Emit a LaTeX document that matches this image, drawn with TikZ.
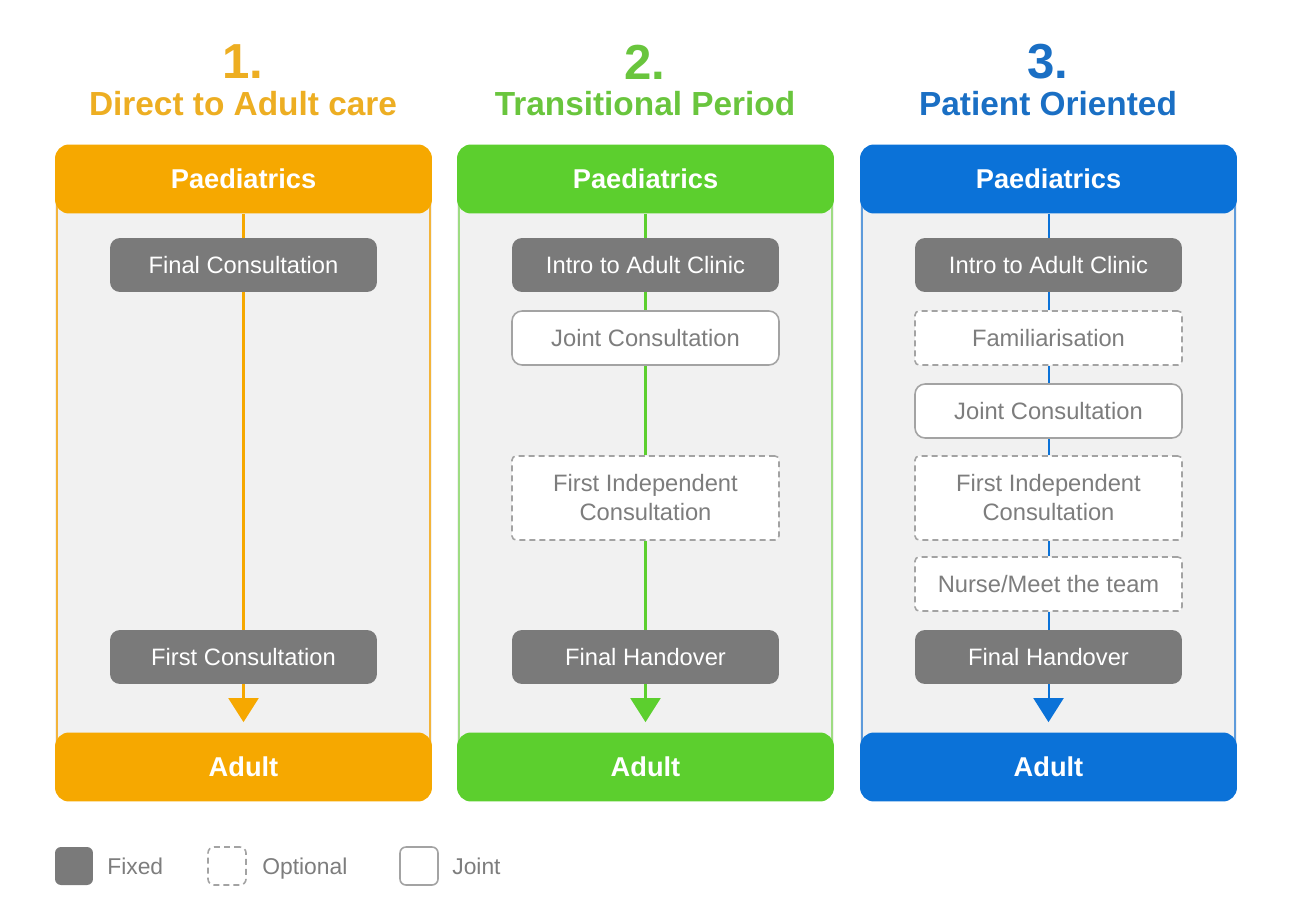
\documentclass[tikz,border=0pt]{standalone}
\usepackage{fontspec}
\setmainfont{Liberation Sans}
\usetikzlibrary{arrows.meta}
\definecolor{corange}{HTML}{F6A800}
\definecolor{cgreen}{HTML}{5CCF2E}
\definecolor{cblue}{HTML}{0B72D8}
\definecolor{torange}{HTML}{EDAE22}
\definecolor{tgreen}{HTML}{69C53D}
\definecolor{tblue}{HTML}{1A6FC4}
\definecolor{lorange}{HTML}{F3B43A}
\definecolor{lgreen}{HTML}{9EDC82}
\definecolor{lblue}{HTML}{5E9BDB}
\definecolor{panelgray}{HTML}{F1F1F1}
\definecolor{fixgray}{HTML}{7A7A7A}
\definecolor{dashgray}{HTML}{A3A3A3}
\definecolor{txtgray}{HTML}{7D7D7D}
\begin{document}
\begin{tikzpicture}[x=0.02cm,y=-0.02cm,
  numtitle/.style={text=#1, font=\bfseries\fontsize{28}{30}\selectfont, inner sep=0},
  subtitle/.style={text=#1, font=\bfseries\fontsize{19}{21}\selectfont, inner sep=0},
  hdr/.style={fill=#1, rounded corners=0.28cm, minimum width=7.54cm, minimum height=1.38cm, text=white, font=\bfseries\fontsize{15.5}{18}\selectfont, inner sep=0},
  stepbase/.style={minimum width=5.34cm, minimum height=1.08cm, align=center, inner sep=0, font=\fontsize{13.5}{16.5}\selectfont},
  fixed/.style={stepbase, fill=fixgray, rounded corners=0.2cm, text=white},
  optional/.style={stepbase, fill=white, draw=dashgray, dash pattern=on 3.4pt off 2.3pt, line width=0.9pt, rounded corners=0.08cm, text=txtgray},
  joint/.style={stepbase, fill=white, draw=dashgray, line width=0.9pt, rounded corners=0.2cm, text=txtgray},
  flow/.style={draw=#1, line width=1.15pt},
  tip/.style={flow=#1, -{Triangle[width=0.6cm,length=0.48cm]}, shorten >=0.2cm},
  side/.style={draw=#1, line width=0.9pt},
  legtext/.style={anchor=base west, text=txtgray, font=\fontsize{13}{16}\selectfont, inner sep=0}
]
\useasboundingbox (0,0) rectangle (1295,905);
\fill[white] (0,0) rectangle (1295,905);

% ---------- Column 1 ----------
\fill[panelgray] (55,190) rectangle (432,760);
\draw[side=lorange] (57,200) -- (57,750);
\draw[side=lorange] (430,200) -- (430,750);
\node[numtitle=torange] (n1) at (243,62) {1.};
\node[subtitle=torange] (s1) at (243,104) {Direct to Adult care};
\node[hdr=corange] (p1) at (243.5,179) {Paediatrics};
\node[hdr=corange] (ad1) at (243.5,767) {Adult};
\node[fixed] (fc1) at (243.5,265) {Final Consultation};
\node[fixed] (fi1) at (243.5,657) {First Consultation};
\draw[flow=corange] (p1.south) -- (fc1.north);
\draw[flow=corange] (fc1.south) -- (fi1.north);
\draw[tip=corange] (fi1.south) -- (ad1.north);

% ---------- Column 2 ----------
\fill[panelgray] (457,190) rectangle (834,760);
\draw[side=lgreen] (459,200) -- (459,750);
\draw[side=lgreen] (832,200) -- (832,750);
\node[numtitle=tgreen] (n2) at (645,62) {2.};
\node[subtitle=tgreen] (s2) at (645,104) {Transitional Period};
\node[hdr=cgreen] (p2) at (645.5,179) {Paediatrics};
\node[hdr=cgreen] (ad2) at (645.5,767) {Adult};
\node[fixed] (in2) at (645.5,265) {Intro to Adult Clinic};
\node[joint] (jc2) at (645.5,338) {Joint Consultation};
\node[optional, minimum height=1.68cm] (fic2) at (645.5,498) {First Independent\\Consultation};
\node[fixed] (fh2) at (645.5,657) {Final Handover};
\draw[flow=cgreen] (p2.south) -- (in2.north);
\draw[flow=cgreen] (in2.south) -- (jc2.north);
\draw[flow=cgreen] (jc2.south) -- (fic2.north);
\draw[flow=cgreen] (fic2.south) -- (fh2.north);
\draw[tip=cgreen] (fh2.south) -- (ad2.north);

% ---------- Column 3 ----------
\fill[panelgray] (860,190) rectangle (1237,760);
\draw[side=lblue] (862,200) -- (862,750);
\draw[side=lblue] (1235,200) -- (1235,750);
\node[numtitle=tblue] (n3) at (1048,62) {3.};
\node[subtitle=tblue] (s3) at (1048,104) {Patient Oriented};
\node[hdr=cblue] (p3) at (1048.5,179) {Paediatrics};
\node[hdr=cblue] (ad3) at (1048.5,767) {Adult};
\node[fixed] (in3) at (1048.5,265) {Intro to Adult Clinic};
\node[optional] (fa3) at (1048.5,338) {Familiarisation};
\node[joint] (jc3) at (1048.5,411) {Joint Consultation};
\node[optional, minimum height=1.68cm] (fic3) at (1048.5,498) {First Independent\\Consultation};
\node[optional] (nm3) at (1048.5,584) {Nurse/Meet the team};
\node[fixed] (fh3) at (1048.5,657) {Final Handover};
\draw[flow=cblue] (p3.south) -- (in3.north);
\draw[flow=cblue] (in3.south) -- (fa3.north);
\draw[flow=cblue] (fa3.south) -- (jc3.north);
\draw[flow=cblue] (jc3.south) -- (fic3.north);
\draw[flow=cblue] (fic3.south) -- (nm3.north);
\draw[flow=cblue] (nm3.south) -- (fh3.north);
\draw[tip=cblue] (fh3.south) -- (ad3.north);

% ---------- Legend ----------
\node[fill=fixgray, rounded corners=0.12cm, minimum size=0.76cm, inner sep=0] (lgf) at (74,866) {};
\node[legtext] (lgft) at (107,874) {Fixed};
\node[draw=dashgray, dash pattern=on 3.4pt off 2.3pt, line width=0.9pt, rounded corners=0.12cm, minimum size=0.76cm, inner sep=0] (lgo) at (227,866) {};
\node[legtext] (lgot) at (262,874) {Optional};
\node[draw=dashgray, fill=white, line width=0.9pt, rounded corners=0.12cm, minimum size=0.76cm, inner sep=0] (lgj) at (419,866) {};
\node[legtext] (lgjt) at (452,874) {Joint};
\end{tikzpicture}
\end{document}
